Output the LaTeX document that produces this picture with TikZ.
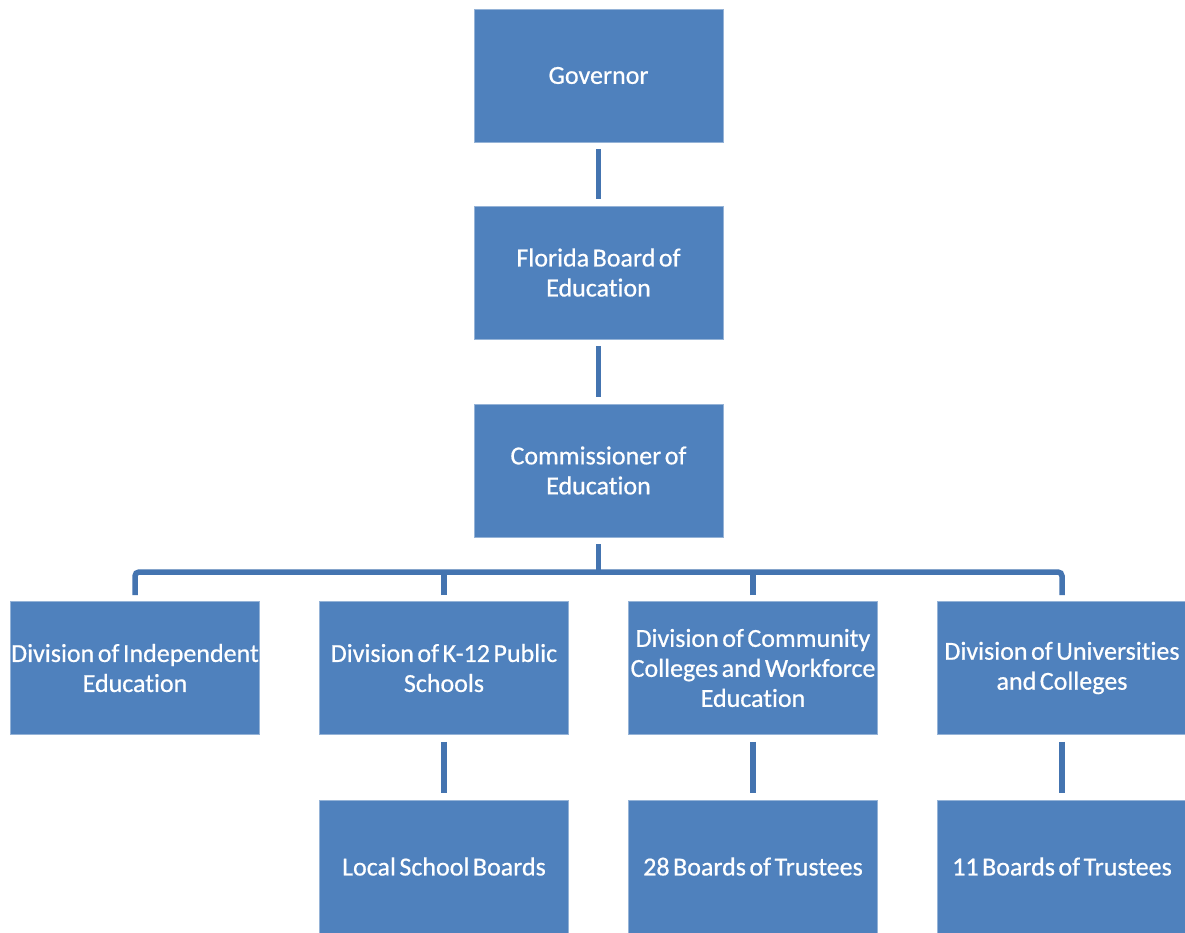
\documentclass[tikz,border=0pt]{standalone}
\usepackage{fontspec}
\setmainfont{Carlito}[WordSpace=0.6, FakeBold=0.6, Ligatures=NoCommon]
\definecolor{boxblue}{HTML}{4F81BD}
\definecolor{lineblue}{HTML}{4474B0}
\begin{document}
\begin{tikzpicture}[x=1pt,y=-1pt,
  orgbox/.style={rectangle, fill=boxblue, draw=boxblue!60!white, line width=0.8pt,
    minimum width=249pt, minimum height=133pt, inner sep=0pt, text=white,
    font=\fontsize{26}{30}\selectfont, align=center},
  link/.style={draw=lineblue, line width=5.5pt},
  bus/.style={draw=lineblue, line width=5.5pt, rounded corners=4pt}]
\useasboundingbox (0,0) rectangle (1185,932);
\fill[white] (0,0) rectangle (1185,932);
\node[orgbox] (gov) at (598.5,75.5) {Governor};
\node[orgbox] (fbe) at (598.5,272.5) {Florida Board of\\Education};
\node[orgbox] (com) at (598.5,470.5) {Commissioner of\\Education};
\node[orgbox] (ind) at (135,668) {Division of Independent\\Education};
\node[orgbox] (k12) at (444,668) {Division of K-12 Public\\Schools};
\node[orgbox] (ccw) at (753,668) {Division of Community\\Colleges and Workforce\\Education};
\node[orgbox] (uni) at (1062,668) {Division of Universities\\and Colleges};
\node[orgbox] (lsb) at (444,866.5) {Local School Boards};
\node[orgbox] (b28) at (753,866.5) {28 Boards of Trustees};
\node[orgbox] (b11) at (1062,866.5) {11 Boards of Trustees};
\coordinate (busy) at (0,572);
\path[link] ([yshift=-7pt]gov.south) -- ([yshift=7pt]fbe.north);
\path[link] ([yshift=-7pt]fbe.south) -- ([yshift=7pt]com.north);
\path[link] ([yshift=-7pt]k12.south) -- ([yshift=7pt]lsb.north);
\path[link] ([yshift=-7pt]ccw.south) -- ([yshift=7pt]b28.north);
\path[link] ([yshift=-7pt]uni.south) -- ([yshift=7pt]b11.north);
\path[link] ([yshift=-7pt]com.south) -- (com.south |- busy);
\path[bus] ([yshift=6pt]ind.north) -- (ind.north |- busy) -- (uni.north |- busy) -- ([yshift=6pt]uni.north);
\path[link] ([yshift=6pt]k12.north) -- (k12.north |- busy);
\path[link] ([yshift=6pt]ccw.north) -- (ccw.north |- busy);
\end{tikzpicture}
\end{document}
